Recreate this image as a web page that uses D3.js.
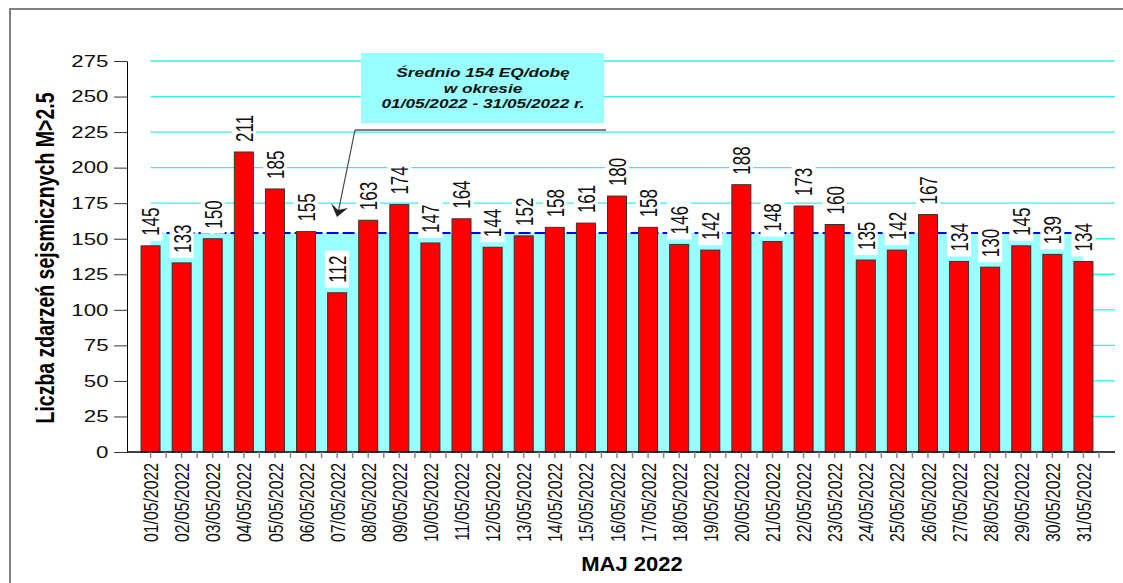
<!DOCTYPE html>
<html>
<head>
<meta charset="utf-8">
<script src="https://cdn.jsdelivr.net/npm/d3@7"></script>
<style>
  body { margin: 0; background: #fff; }
  svg { display: block; }
  text { font-family: "Liberation Sans", Arial, sans-serif; }
</style>
</head>
<body>
<svg width="1123" height="583"></svg>
<script>
// data
const days = ["01/05/2022", "02/05/2022", "03/05/2022", "04/05/2022", "05/05/2022", "06/05/2022",
  "07/05/2022", "08/05/2022", "09/05/2022", "10/05/2022", "11/05/2022", "12/05/2022",
  "13/05/2022", "14/05/2022", "15/05/2022", "16/05/2022", "17/05/2022", "18/05/2022",
  "19/05/2022", "20/05/2022", "21/05/2022", "22/05/2022", "23/05/2022", "24/05/2022",
  "25/05/2022", "26/05/2022", "27/05/2022", "28/05/2022", "29/05/2022", "30/05/2022", "31/05/2022"];
const counts = [145, 133, 150, 211, 185, 155, 112, 163, 174, 147, 164, 144, 152, 158, 161, 180,
  158, 146, 142, 188, 148, 173, 160, 135, 142, 167, 134, 130, 145, 139, 134];
const mean = 154;
const yTicks = [0, 25, 50, 75, 100, 125, 150, 175, 200, 225, 250, 275];
const noteLines = ["Średnio 154 EQ/dobę", "w okresie", "01/05/2022 - 31/05/2022 r."];
const yTitle = "Liczba zdarzeń sejsmicznych M>2.5";
const xTitle = "MAJ 2022";

const svg = d3.select("svg");
const data = days.map((d, i) => ({ day: d, value: counts[i] }));

// outer frame
svg.append("rect")
  .attr("x", 10).attr("y", 9).attr("width", 1200).attr("height", 700)
  .attr("fill", "none").attr("stroke", "#808080").attr("stroke-width", 2);

let x = d3.scaleBand().domain(days).range([135, 1099]);
let y = d3.scaleLinear().domain([0, 275]).range([452, 61]);
const cx = d => x(d) + x.bandwidth() / 2;
const barW = 19;
const first = days[0], last = days[days.length - 1];

// gridlines
svg.append("g")
  .selectAll("line")
  .data(yTicks.filter(v => v > 0))
  .enter()
  .append("line")
  .attr("x1", cx(first)).attr("x2", 1115)
  .attr("y1", d => y(d)).attr("y2", d => y(d))
  .attr("stroke", "#2ef2f2").attr("stroke-width", 1.3);

// mean area
let area = d3.area().x(d => cx(d)).y0(y(0)).y1(y(mean));
svg.append("path").datum(days).attr("d", area).attr("fill", "#99ffff");

// mean line
svg.append("line")
  .attr("x1", cx(first)).attr("x2", cx(last))
  .attr("y1", y(mean)).attr("y2", y(mean))
  .attr("stroke", "#0000ff").attr("stroke-width", 2)
  .attr("stroke-dasharray", "12,4");

// bars
svg.append("g")
  .selectAll("rect")
  .data(data)
  .enter()
  .append("rect")
  .attr("x", d => cx(d.day) - barW / 2)
  .attr("y", d => y(d.value))
  .attr("width", barW)
  .attr("height", d => y(0) - y(d.value))
  .attr("fill", "#ff0000")
  .attr("stroke", "#333").attr("stroke-width", 1);

// value labels with white boxes
let labels = svg.append("g").selectAll("g").data(data).enter().append("g");
labels.append("rect")
  .attr("x", d => cx(d.day) - 12)
  .attr("y", d => y(d.value) - 42)
  .attr("width", 24).attr("height", 37)
  .attr("fill", "#fff");
labels.append("g")
  .attr("transform", d => `translate(${cx(d.day)},${y(d.value) - 10}) scale(1.45,1) rotate(-90)`)
  .append("text")
  .attr("dy", "0.36em")
  .attr("font-size", 17)
  .attr("fill", "#111")
  .text(d => d.value);

// y axis
let yAxisG = svg.append("g").attr("transform", "translate(127,0)");
yAxisG.call(d3.axisLeft(y).tickValues(d3.range(0, 276, 5)).tickSize(7).tickFormat(""));
yAxisG.call(d3.axisLeft(y).tickValues(yTicks).tickSize(13).tickSizeOuter(0).tickFormat(d3.format("d")));
yAxisG.selectAll("line").attr("stroke", "#333");
yAxisG.selectAll("path").attr("stroke", "#000");
yAxisG.selectAll("text")
  .attr("font-family", "Liberation Sans, Arial, sans-serif")
  .attr("font-size", 16.5)
  .attr("fill", "#111")
  .attr("x", -18.5 / 1.35)
  .attr("transform", "scale(1.35,1)");

// x axis
svg.append("line")
  .attr("x1", 127).attr("x2", 1115).attr("y1", y(0)).attr("y2", y(0))
  .attr("stroke", "#000").attr("stroke-width", 1.5);
let xAxisG = svg.append("g").attr("transform", `translate(0,${y(0)})`);
xAxisG.call(d3.axisBottom(x).tickSize(6).tickFormat(""));
xAxisG.select(".domain").remove();
xAxisG.selectAll("line").attr("stroke", "#888").attr("stroke-width", 1.5);
xAxisG.selectAll(".bound")
  .data(days)
  .enter()
  .append("line")
  .attr("x1", d => x(d) + x.bandwidth()).attr("x2", d => x(d) + x.bandwidth())
  .attr("y1", 0).attr("y2", 6)
  .attr("stroke", "#888").attr("stroke-width", 1.5);

// x tick labels
svg.append("g")
  .selectAll("g")
  .data(days)
  .enter()
  .append("g")
  .attr("transform", d => `translate(${cx(d)},463) scale(1.33,1) rotate(-90)`)
  .append("text")
  .attr("text-anchor", "end")
  .attr("dy", "0.36em")
  .attr("font-size", 15.8)
  .attr("fill", "#111")
  .text(d => d);

// axis titles
svg.append("g")
  .attr("transform", "translate(45,258) scale(1.3,1) rotate(-90)")
  .append("text")
  .attr("text-anchor", "middle")
  .attr("dy", "0.36em")
  .attr("font-size", 19.5)
  .attr("font-weight", "bold")
  .text(yTitle);

svg.append("g")
  .attr("transform", "translate(632,571) scale(1.1,1)")
  .append("text")
  .attr("text-anchor", "middle")
  .attr("font-size", 20)
  .attr("font-weight", "bold")
  .text(xTitle);

// annotation
svg.append("rect")
  .attr("x", 361).attr("y", 53).attr("width", 243).attr("height", 70)
  .attr("fill", "#99ffff");
const noteY = [77, 93, 108];
svg.append("g")
  .selectAll("g")
  .data(noteLines)
  .enter()
  .append("g")
  .attr("transform", (d, i) => `translate(483,${noteY[i]}) scale(1.38,1)`)
  .append("text")
  .attr("text-anchor", "middle")
  .attr("font-size", 12.5)
  .attr("font-weight", "bold")
  .attr("font-style", "italic")
  .attr("fill", "#111")
  .text(d => d);

svg.append("line")
  .attr("x1", 355).attr("x2", 606).attr("y1", 130).attr("y2", 130)
  .attr("stroke", "#000").attr("stroke-width", 1.2);
svg.append("line")
  .attr("x1", 355).attr("y1", 130).attr("x2", 338).attr("y2", 213)
  .attr("stroke", "#444").attr("stroke-width", 1.2);
svg.append("path")
  .attr("d", "M331,203 L337,217 L348,208 L338,210 Z")
  .attr("fill", "#222");
</script>
</body>
</html>
